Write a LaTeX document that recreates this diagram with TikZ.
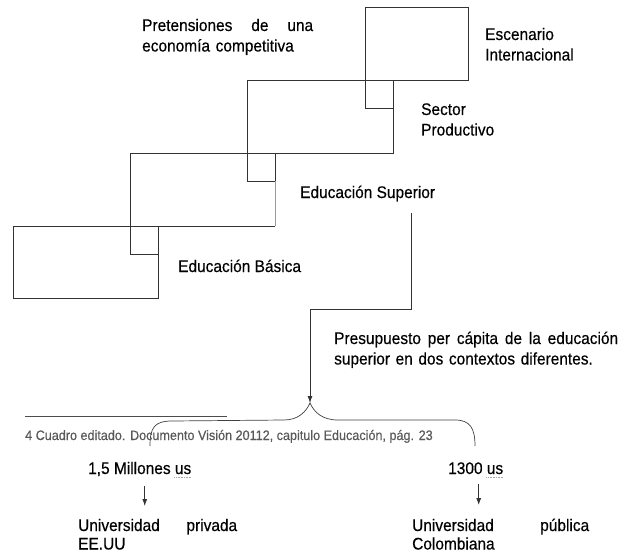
\documentclass[tikz,border=0pt]{standalone}
\usepackage{fontspec}
\setmainfont{Liberation Sans}[FakeStretch=0.92,FakeBold=0.4]
\usetikzlibrary{positioning,arrows.meta}
\newcommand{\linea}[2]{\makebox[#1][l]{#2}}

\begin{document}
\begin{tikzpicture}[x=1pt,y=-1pt,
    caja/.style={draw=black!80,line width=0.8pt},
    texto/.style={anchor=base west,inner sep=0pt,align=left,
      font=\fontsize{16.8}{20.5}\selectfont},
    abajo/.style={texto,font=\fontsize{16.8}{18.5}\selectfont},
    nota/.style={anchor=base west,inner sep=0pt,text=black!65,
      font=\fontsize{13.7}{15}\selectfont},
    flecha/.style={draw=black!80,line width=0.8pt,-{Latex[length=7pt,width=5pt]}},
    llave/.style={draw=black!75,line width=0.7pt},
    ondita/.style={draw=black!35,densely dotted,line width=0.6pt}
    ]
    \useasboundingbox (0,0) rectangle (620,556);

    % escalones
    \draw[caja] (365,7) rectangle (468,80);
    \draw[caja] (247,80) rectangle (393,153);
    \draw[caja] (275,181) -- (275,153) -- (130,153) -- (130,226) -- (275,226);
    \draw[caja,draw=black!40] (275,181) -- (275,226);
    \draw[caja] (13,226) rectangle (158,298);
    \foreach \xa/\xb/\ya in {365/393/80, 247/275/153, 130/158/226}
      \draw[caja] (\xa,\ya) -- (\xa,\ya+28) -- (\xb,\ya+28);

    \node[texto,text width=171pt] (pret) at (142,31)
      {\linea{171pt}{Pretensiones\hfill de\hfill una}\\economía competitiva};
    \node[texto,text width=110pt] (esc) at (485,40) {Escenario\\Internacional};
    \node[texto,text width=90pt] (sec) at (421,115) {Sector\\Productivo};
    \node[texto] (sup) at (300,198) {Educación Superior};
    \node[texto] (bas) at (178,272) {Educación Básica};
    \node[texto,text width=284pt] (pres) at (334,344)
      {\linea{284pt}{Presupuesto\hfill per\hfill cápita\hfill de\hfill la\hfill educación}\\superior en dos contextos diferentes.};

    % conector y llave
    \coordinate (ini) at (411,213);
    \coordinate (codo) at (310,309);
    \coordinate (pico) at (310,403);
    \draw[flecha] (ini) |- (codo) -- (pico);
    \draw[llave] (150,446) .. controls (150,428) and (154,421) .. (172,421)
      -- (284,420) .. controls (298,420) and (306,412) .. (pico)
      .. controls (314,412) and (322,420) .. (338,420)
      -- (455,420) .. controls (470,420) and (475,428) .. (475,446);

    % nota al pie
    \draw[draw=black!70,line width=0.6pt] (25,416) -- (227,416);
    \node[nota] (pie) at (25,440)
      {4 Cuadro editado. Documento Visión 20112, capitulo Educación, pág. 23};

    % montos
    \node[texto] (mA) at (88,474) {1,5 Millones us};
    \node[texto] (mB) at (448,474) {1300 us};
    \draw[ondita] ([xshift=-17pt,yshift=-3pt]mA.base east) -- ++(17,0);
    \draw[ondita] ([xshift=-17pt,yshift=-3pt]mB.base east) -- ++(17,0);
    \node[abajo,text width=159pt] (uA) at (78,531)
      {\linea{159pt}{Universidad\hfill privada}\\EE.UU};
    \node[abajo,text width=177pt] (uB) at (412,531)
      {\linea{177pt}{Universidad\hfill pública}\\Colombiana};
    \coordinate (fA) at ([xshift=5pt]mA.base);
    \coordinate (fB) at ([xshift=3pt]mB.base);
    \draw[flecha,shorten <=12pt,shorten >=25pt] (fA) -- (fA |- uA.base);
    \draw[flecha,shorten <=10pt,shorten >=26pt] (fB) -- (fB |- uB.base);
\end{tikzpicture}
\end{document}
